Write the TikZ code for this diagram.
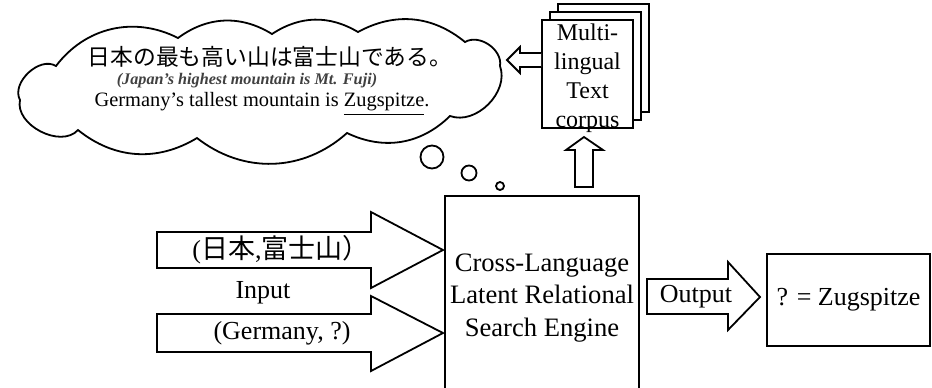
\documentclass[tikz,border=0pt]{standalone}
\usepackage{fontspec}
\setmainfont{Liberation Serif}
\newfontfamily\jafont{Noto Sans CJK JP}

\begin{document}
\begin{tikzpicture}[
  x=0.5pt, y=-0.5pt,
  line width=0.9pt,
  page/.style={draw,fill=white,minimum width=45.5pt,minimum height=54pt,inner sep=0pt},
  bigarrow/.style={draw,fill=white,line join=miter},
  lbl/.style={font=\fontsize{13}{15}\selectfont,inner sep=0pt},
  bubble/.style={circle,draw,inner sep=0pt,minimum size=#1},
]
  \useasboundingbox (0,0) rectangle (932,387);
  \clip (0,0) rectangle (932,387);

  % thought cloud
  \draw[fill=white] (56,66) to[bend left=40] (178,38) to[bend left=34] (272,34)
    to[bend left=32] (358,32) to[bend left=34] (465,42) to[bend left=65] (500,66)
    to[bend left=65] (450,116) to[bend left=35] (347,133) to[bend left=40] (197,138)
    to[bend left=35] (78,130) to[bend left=75] (20,100) to[bend left=75] cycle;
  \node[inner sep=0pt,font=\jafont\fontsize{11.4}{13}\selectfont] (ja) at (270,57) {日本の最も高い山は富士山である。};
  \node[inner sep=0pt,text=black!75,font=\fontsize{8.1}{9}\selectfont\bfseries\itshape] (gloss) at (247,81) {(Japan’s highest mountain is Mt. Fuji)};
  \node[inner sep=0pt,font=\fontsize{10.2}{12}\selectfont] (de) at (262,104) {Germany’s tallest mountain is \underline{Zugspitze}.};

  \node[bubble=11.5pt] (b1) at (432,157) {};
  \node[bubble=7.5pt] (b2) at (469,173) {};
  \node[bubble=4pt] (b3) at (500,186) {};

  % text corpus
  \node[page] (p3) at (603.5,58) {};
  \node[page] (p2) at (595.5,66) {};
  \node[page] (p1) at (587.5,74) {};
  \node[align=center,inner sep=0pt,font=\fontsize{12}{14.5}\selectfont] (corpus) at (p1) [yshift=-2pt] {Multi-\\lingual\\Text\\corpus};

  % engine and result
  \node[draw,inner sep=0pt,minimum width=97pt,minimum height=102pt,align=center,font=\fontsize{13.3}{16.2}\selectfont] (engine) at (542,298) {Cross-Language\\Latent Relational\\Search Engine};
  \node[draw,minimum width=81.5pt,minimum height=46pt,lbl] (result) at (848.5,300) {? = Zugspitze};

  % block arrows
  \draw[bigarrow] (157,232) -- (371,232) -- (371,212) -- (443,250) -- (371,288) -- (371,268) -- (157,268) -- cycle;
  \draw[bigarrow] (157,314) -- (371,314) -- (371,296) -- (443,333) -- (371,371) -- (371,352) -- (157,352) -- cycle;
  \draw[bigarrow] (647,279) -- (728,279) -- (728,262) -- (760,297) -- (728,330) -- (728,314) -- (647,314) -- cycle;
  \draw[bigarrow] (575,187) -- (575,150) -- (566,150) -- (584,137) -- (603,150) -- (593,150) -- (593,187) -- cycle;
  \draw[bigarrow] (p1.west |- 0,53) -- (520,53) -- (520,47) -- (507,60) -- (520,73) -- (520,67) -- (p1.west |- 0,67);

  \node[lbl] (jin) at (281,250) {({\jafont\fontsize{13.5}{15}\selectfont 日本},{\jafont\fontsize{13.5}{15}\selectfont 富士山）}};
  \node[lbl] (inp) at (263,293) {Input};
  \node[lbl] (gin) at (282,333) {(Germany, ?)};
  \node[lbl] (out) at (696,297) {Output};
\end{tikzpicture}
\end{document}
